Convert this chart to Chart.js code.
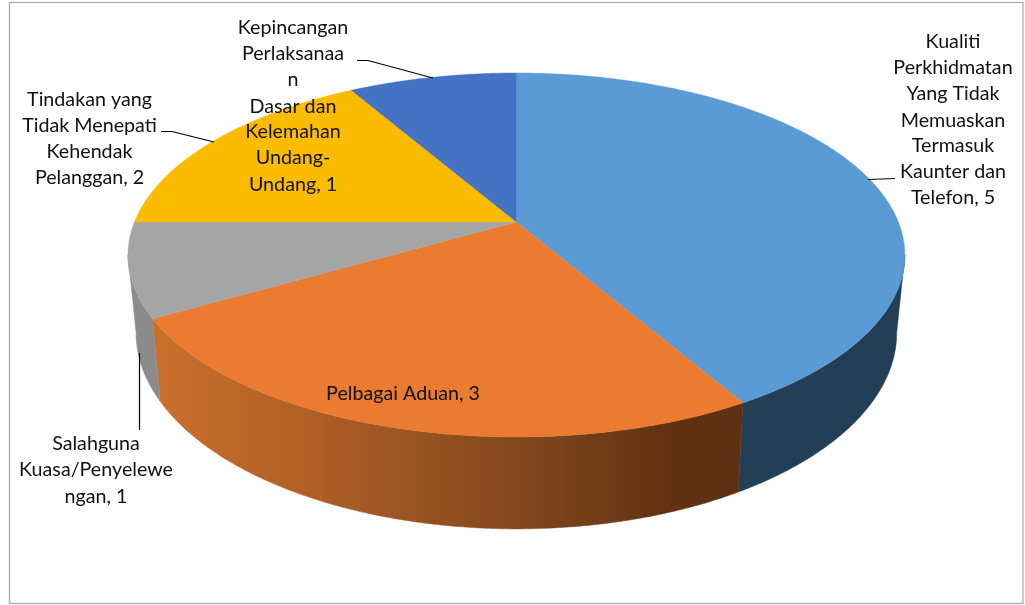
<!DOCTYPE html>
<html><head><meta charset="utf-8">
<style>html,body{margin:0;padding:0;background:#fff}canvas{display:block}</style>
<script src="https://cdn.jsdelivr.net/npm/chart.js@4/dist/chart.umd.min.js"></script>
</head><body><canvas id="c" width="1025" height="605"></canvas>
<script>
const categories = ["Kualiti Perkhidmatan Yang Tidak Memuaskan Termasuk Kaunter dan Telefon","Pelbagai Aduan","Salahguna Kuasa/Penyelewengan","Tindakan yang Tidak Menepati Kehendak Pelanggan","Kepincangan Perlaksanaan Dasar dan Kelemahan Undang-Undang"];
const values = [5,3,1,2,1];
const topColors = ["#5b9bd5","#ea7b30","#a5a5a5","#fbbc00","#4472c4"];
const sideStops = [
  [[0,"#223f57"],[1,"#223f57"]],
  [[0,"#cb702b"],[0.27,"#b05f26"],[0.62,"#84481e"],[0.9,"#5f3011"],[1,"#5f3011"]],
  [[0,"#8b8b8b"],[1,"#8b8b8b"]],
  [[0,"#9c7500"],[1,"#9c7500"]],
  [[0,"#2a4678"],[1,"#2a4678"]]
];
const labelLines = [
  ["Kualiti","Perkhidmatan","Yang Tidak","Memuaskan","Termasuk","Kaunter dan","Telefon, 5"],
  ["Pelbagai Aduan, 3"],
  ["Salahguna","Kuasa/Penyelewe","ngan, 1"],
  ["Tindakan yang","Tidak Menepati","Kehendak","Pelanggan, 2"],
  ["Kepincangan","Perlaksanaa","n","Dasar dan","Kelemahan","Undang-","Undang, 1"]
];
const labelX = [953,403,96,89.5,293];
const labelY = [[42,68,94,121,146,172,198],[394],[444,470,497],[100,126,152,178],[28,54,80,107,132,158,185]];
const leaders = [
  [[895,178.5],[868,179.5]],
  [],
  [[139.5,353],[139.5,430]],
  [[161,131.5],[172,131.5],[214,142]],
  [[357,60.5],[368,60.5],[433,78]]
];

// perspective view of the pie's unit circle
const CX=516.4, K_TOP=382, K_BOT=374, C=-0.1813, A=135.8, B_TOP=222, B_BOT=297.2;
function proj(a,bottom){
  const u=Math.cos(a), v=Math.sin(a), d=1+C*v, k=bottom?K_BOT:K_TOP, b=bottom?B_BOT:B_TOP;
  return [CX+k*u/d,(A*v+b)/d];
}
const VIS0=Math.asin(-C), VIS1=Math.PI-VIS0;

const pie3d={
  id:'pie3d',
  beforeDatasetDraw(chart,args){
    const ctx=chart.ctx, arcs=chart.getDatasetMeta(args.index).data;
    const STEP=Math.PI/360;
    arcs.forEach((el,i)=>{
      const s=Math.max(el.startAngle,VIS0), e=Math.min(el.endAngle,VIS1);
      if(e<=s) return;
      const g=ctx.createLinearGradient(152,0,738,0);
      sideStops[i].forEach(st=>g.addColorStop(st[0],st[1]));
      ctx.beginPath();
      let first=true;
      for(let a=s;a<e;a+=STEP){const p=proj(a,false);first?ctx.moveTo(p[0],p[1]):ctx.lineTo(p[0],p[1]);first=false;}
      let p=proj(e,false);ctx.lineTo(p[0],p[1]);
      for(let a=e;a>s;a-=STEP){p=proj(a,true);ctx.lineTo(p[0],p[1]);}
      p=proj(s,true);ctx.lineTo(p[0],p[1]);
      ctx.closePath();
      ctx.fillStyle=g;ctx.fill();
      ctx.strokeStyle=g;ctx.lineWidth=0.5;ctx.stroke();
    });
    arcs.forEach(el=>{
      const s=el.startAngle,e=el.endAngle;
      ctx.beginPath();
      ctx.moveTo(CX,B_TOP);
      for(let a=s;a<e;a+=STEP){const p=proj(a,false);ctx.lineTo(p[0],p[1]);}
      const p=proj(e,false);ctx.lineTo(p[0],p[1]);
      ctx.closePath();
      ctx.fillStyle=el.options.backgroundColor;ctx.fill();
      ctx.strokeStyle=el.options.backgroundColor;ctx.lineWidth=0.4;ctx.stroke();
    });
    return false;
  },
  afterDraw(chart){
    const ctx=chart.ctx;
    ctx.save();
    ctx.strokeStyle='#adadad';ctx.lineWidth=1.3;
    ctx.strokeRect(9.5,2.5,1013.5,601);
    ctx.strokeStyle='#000';ctx.lineWidth=1.2;
    leaders.forEach(l=>{
      if(!l.length)return;
      ctx.beginPath();
      l.forEach((p,i)=>i?ctx.lineTo(p[0],p[1]):ctx.moveTo(p[0],p[1]));
      ctx.stroke();
    });
    ctx.fillStyle='#111';
    ctx.font='19.7px Lato';
    ctx.textAlign='center';ctx.textBaseline='middle';
    labelLines.forEach((ls,i)=>ls.forEach((t,j)=>ctx.fillText(t,labelX[i],labelY[i][j])));
    ctx.restore();
  }
};

new Chart(document.getElementById('c'),{
  type:'pie',
  data:{labels:categories,datasets:[{data:values,backgroundColor:topColors,borderWidth:0}]},
  options:{responsive:false,animation:false,rotation:0,
    plugins:{legend:{display:false},tooltip:{enabled:false},title:{display:false}},
    layout:{padding:0}},
  plugins:[pie3d]
});
</script></body></html>
